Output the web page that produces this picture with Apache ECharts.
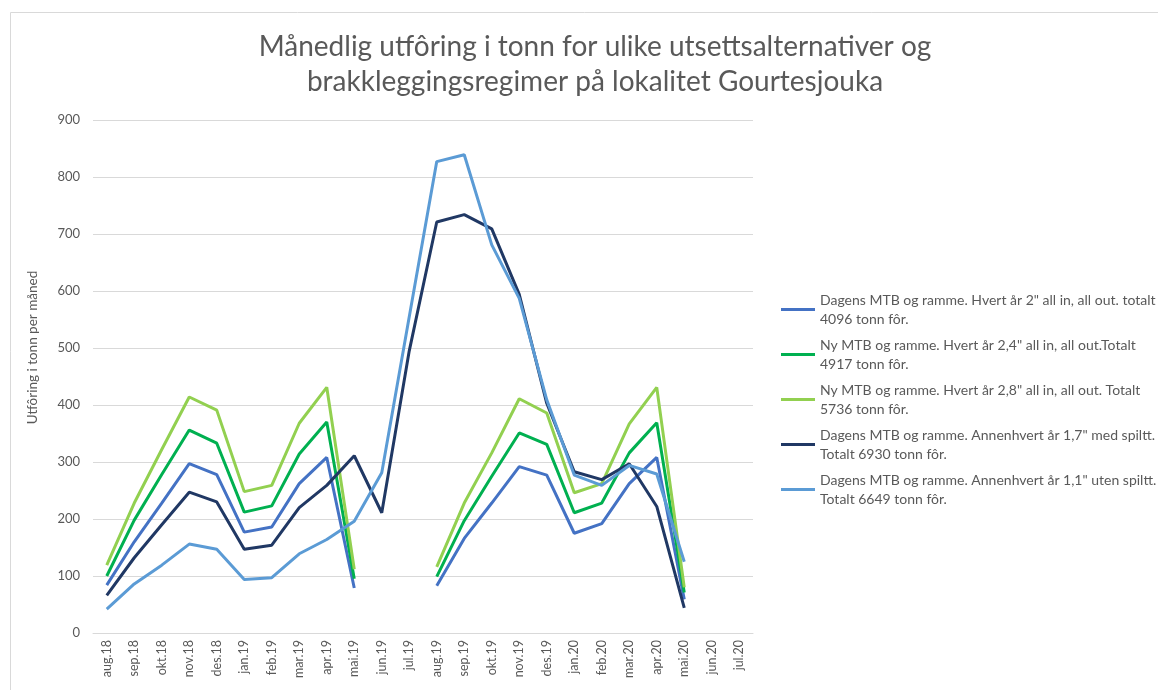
<!DOCTYPE html>
<html>
<head>
<meta charset="utf-8">
<script src="https://cdn.jsdelivr.net/npm/echarts@6/dist/echarts.min.js"></script>
<style>
  html, body { margin: 0; padding: 0; background: #fff; }
  #main { width: 1158px; height: 690px; }
</style>
</head>
<body>
<div id="main"></div>
<script>
  // kategorier (måneder)
  var months = ['aug.18','sep.18','okt.18','nov.18','des.18','jan.19','feb.19','mar.19','apr.19','mai.19','jun.19','jul.19',
                'aug.19','sep.19','okt.19','nov.19','des.19','jan.20','feb.20','mar.20','apr.20','mai.20','jun.20','jul.20']

  var seriesNames = [
    'Dagens MTB og ramme. Hvert år 2" all in, all out. totalt\n4096 tonn fôr.',
    'Ny MTB og ramme. Hvert år 2,4" all in, all out.Totalt\n4917 tonn fôr.',
    'Ny MTB og ramme. Hvert år 2,8" all in, all out. Totalt\n5736 tonn fôr.',
    'Dagens MTB og ramme. Annenhvert år 1,7" med spiltt.\nTotalt 6930 tonn fôr.',
    'Dagens MTB og ramme. Annenhvert år 1,1" uten spiltt.\nTotalt 6649 tonn fôr.'
  ]

  var dagens2 = [84,160,228,297,278,177,186,262,308,79,null,null,83,166,228,292,277,175,192,262,308,59,null,null]
  var ny24 = [100,198,278,356,333,212,223,314,370,95,null,null,99,197,275,351,331,211,228,316,369,71,null,null]
  var ny28 = [119,228,322,414,391,248,259,368,431,112,null,null,116,228,316,411,386,246,262,367,431,80,null,null]
  var annen17 = [66,132,190,247,230,147,154,220,259,311,211,495,721,734,709,594,403,283,269,297,222,44,null,null]
  var annen11 = [42,86,119,156,147,94,97,139,164,196,281,555,827,839,681,587,409,277,259,294,279,125,null,null]

  var colors = ['#4472C4', '#00B050', '#92D050', '#203864', '#5B9BD5']
  var values = [dagens2, ny24, ny28, annen17, annen11]

  var chart = echarts.init(document.getElementById('main'))

  var series = values.map(function (d, i) {
    return {
      name: seriesNames[i],
      type: 'line',
      data: d,
      symbol: 'none',
      connectNulls: false,
      lineStyle: { width: 3, color: colors[i] },
      itemStyle: { color: colors[i] }
    }
  })

  chart.setOption({
    animation: false,
    textStyle: { fontFamily: 'Lato' },
    title: {
      text: 'Månedlig utfôring i tonn for ulike utsettsalternativer og\nbrakkleggingsregimer på lokalitet Gourtesjouka',
      left: 590,
      top: 24,
      textAlign: 'center',
      textStyle: {
        fontFamily: 'Lato',
        fontWeight: 'normal',
        fontSize: 28,
        lineHeight: 35,
        color: '#595959'
      }
    },
    legend: {
      orient: 'vertical',
      left: 776,
      top: 276,
      icon: 'rect',
      itemWidth: 34,
      itemHeight: 3,
      itemGap: -12,
      data: seriesNames,
      textStyle: {
        fontFamily: 'Lato',
        fontSize: 14,
        lineHeight: 19,
        color: '#595959',
        padding: [19, 0, 0, 0]
      }
    },
    grid: {
      left: 93,
      top: 120,
      width: 660,
      height: 513
    },
    xAxis: {
      type: 'category',
      data: months,
      boundaryGap: true,
      axisLine: { lineStyle: { color: '#D9D9D9' } },
      axisTick: { show: false },
      axisLabel: {
        rotate: 90,
        interval: 0,
        color: '#595959',
        fontSize: 12.5,
        margin: 7
      }
    },
    yAxis: {
      type: 'value',
      min: 0,
      max: 900,
      interval: 100,
      name: 'Utfôring i tonn per måned',
      nameLocation: 'middle',
      nameRotate: 90,
      nameGap: 53,
      nameTextStyle: {
        color: '#595959',
        fontSize: 13.5,
        padding: [0, 0, 0, 58]
      },
      axisLine: { show: false },
      axisTick: { show: false },
      axisLabel: { color: '#595959', fontSize: 13, margin: 13 },
      splitLine: { lineStyle: { color: '#D9D9D9', width: 1 } }
    },
    graphic: [{
      type: 'rect',
      shape: { x: 10.5, y: 12.5, width: 1300, height: 800 },
      style: { fill: 'none', stroke: '#D9D9D9', lineWidth: 1 },
      silent: true
    }],
    series: series
  })
</script>
</body>
</html>
